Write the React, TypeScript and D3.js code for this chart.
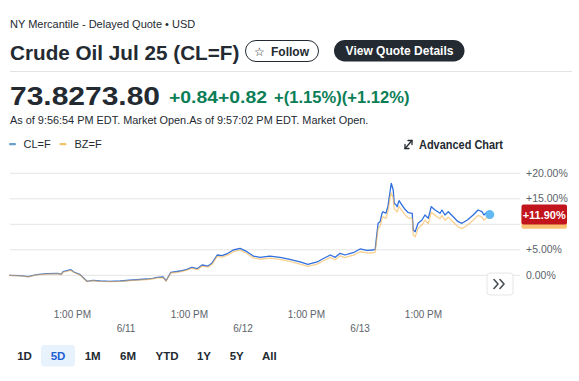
import React from "react";
import * as d3 from "d3";

// hours since 2025-06-10 00:00 (local)
const hours = [0, 2.3, 3.9, 5.7, 7.8, 10.0, 10.7, 11.1, 12.7, 13.3, 14.6, 16.0, 17.2, 18.7, 20.7, 22.8, 25.4, 28.3, 29.5, 30.4, 31.6, 32.2, 33.2, 35.1, 36.5, 37.5, 38.6, 39.6, 40.8, 41.6, 42.7, 43.7, 44.9, 46.0, 47.4, 48.8, 50.1, 51.5, 53.5, 55.6, 57.6, 59.7, 61.3, 63.2, 64.4, 65.9, 66.9, 67.9, 68.9, 70.0, 70.6, 72.0, 73.4, 74.7, 75.1, 75.5, 75.7, 76.1, 76.5, 76.7, 77.3, 77.7, 78.2, 78.4, 78.8, 79.0, 79.4, 79.6, 80.0, 80.6, 81.2, 81.9, 82.7, 82.9, 83.3, 83.9, 84.7, 85.3, 86.0, 86.6, 87.4, 88.4, 88.8, 89.4, 90.1, 91.1, 92.1, 92.9, 94.0, 95.2, 96.2, 97.0, 97.4, 98.1, 98.6];

const clPct = [0.00, -0.08, -0.27, 0.12, 0.31, 0.39, 0.20, 0.71, 1.10, 0.65, 0.12, -1.18, -0.98, -1.12, -1.18, -1.12, -0.92, -0.73, -0.59, -0.39, -0.33, -1.06, 0.59, 0.84, 1.18, 1.57, 1.29, 2.02, 1.82, 2.35, 3.98, 3.84, 4.31, 4.96, 5.29, 4.63, 3.78, 3.53, 3.78, 3.53, 3.14, 2.61, 2.16, 2.61, 3.25, 3.98, 3.53, 4.31, 3.98, 4.31, 4.43, 5.16, 4.90, 4.96, 5.10, 8.55, 10.20, 10.51, 12.16, 12.47, 12.16, 13.45, 16.73, 18.04, 16.73, 14.12, 13.78, 13.45, 14.63, 13.78, 12.94, 12.27, 12.16, 8.88, 8.55, 10.20, 10.84, 11.82, 11.18, 13.45, 12.80, 12.16, 12.80, 11.82, 12.47, 11.49, 10.51, 10.20, 10.84, 11.82, 12.80, 12.47, 11.82, 12.47, 11.90];

const bzPct = [0.00, -0.10, -0.30, 0.08, 0.25, 0.33, 0.15, 0.62, 0.98, 0.55, 0.05, -1.25, -1.05, -1.20, -1.25, -1.20, -1.00, -0.82, -0.68, -0.50, -0.45, -1.15, 0.45, 0.68, 1.00, 1.38, 1.10, 1.80, 1.60, 2.10, 3.70, 3.55, 4.00, 4.62, 4.95, 4.28, 3.42, 3.15, 3.38, 3.12, 2.72, 2.20, 1.75, 2.18, 2.80, 3.50, 3.05, 3.82, 3.48, 3.80, 3.92, 4.62, 4.38, 4.42, 4.55, 7.60, 9.20, 9.55, 11.10, 11.45, 11.15, 12.40, 15.50, 16.10, 15.20, 12.95, 12.70, 12.40, 13.50, 12.70, 11.90, 11.25, 11.10, 7.90, 7.55, 9.20, 9.85, 10.80, 10.15, 12.35, 11.75, 11.10, 11.75, 10.80, 11.40, 10.45, 9.50, 9.15, 9.80, 10.80, 11.75, 11.40, 10.80, 11.40, 11.10];

const seriesNames = ["CL=F", "BZ=F"];
const yTicks = [0, 5, 10, 15, 20];
const timeTicks = ["2025-06-10T13:00", "2025-06-11T13:00", "2025-06-12T13:00", "2025-06-13T13:00"];
const dateTicks = ["2025-06-11T00:00", "2025-06-12T00:00", "2025-06-13T00:00"];
const ranges = ["1D", "5D", "1M", "6M", "YTD", "1Y", "5Y", "All"];
const activeRange = "5D";

const exchangeLine = "NY Mercantile - Delayed Quote • USD";
const title = "Crude Oil Jul 25 (CL=F)";
const priceText = "73.8273.80";
const changeText = "+0.84+0.82";
const pctText = "+(1.15%)(+1.12%)";
const asOfText = "As of 9:56:54 PM EDT. Market Open.As of 9:57:02 PM EDT. Market Open.";

const FONT = "'Liberation Sans', Arial, Helvetica, sans-serif";
const DARK = "#232a31";
const GRAY = "#5b636a";
const GREEN = "#0b7e57";
const BLUE = "#2f6fdf";
const ORANGE = "#f5b247";

export default function App() {
  const t0 = new Date(2025, 5, 10, 0, 0).getTime();
  const toDate = (h: number) => new Date(t0 + h * 3600000);
  const parse = d3.timeParse("%Y-%m-%dT%H:%M");

  const x = d3.scaleTime().domain([toDate(0), toDate(104.8)]).range([9, 520]);
  const y = d3.scaleLinear().domain([0, 20]).range([275.3, 173.3]);

  const line = d3
    .line<number>()
    .x((_, i) => x(toDate(hours[i])))
    .y((d) => y(d))
    .curve(d3.curveLinear);

  const fmtTime = d3.timeFormat("%-I:%M %p");
  const fmtDate = d3.timeFormat("%-m/%-d");
  const fmtPct = (d: number) => (d > 0 ? "+" : "") + d.toFixed(2) + "%";

  const lastI = hours.length - 1;
  const endX = x(toDate(hours[lastI]));
  const clEndY = y(clPct[lastI]);
  const bzEndY = y(bzPct[lastI]);
  const badgeTop = clEndY - 10;
  const badgeBottom = bzEndY + 10;

  const rangeX = [24.5, 58, 92.7, 128, 167, 204, 236.7, 269.3];

  return (
    <svg
      width={579}
      height={381}
      style={{ position: "absolute", left: 0, top: 0, background: "#fff" }}
      fontFamily={FONT}
    >
      <rect width={579} height={381} fill="#fff" />
      {/* header */}
      <text x={10} y={28} fontSize={11} fill={DARK}>{exchangeLine}</text>
      <text x={10} y={59.5} fontSize={20.7} fontWeight={700} fill={DARK}>{title}</text>

      <rect x={245.5} y={40.5} width={73} height={21} rx={10.5} fill="#fff" stroke={DARK} strokeWidth={1} />
      <text x={254} y={55.5} fontSize={12} fill={DARK} fontFamily="'DejaVu Sans', sans-serif">☆</text>
      <text x={271} y={55.5} fontSize={12} fontWeight={700} fill={DARK}>Follow</text>

      <rect x={334} y={40} width={130.5} height={21.5} rx={10.75} fill={DARK} />
      <text x={399.5} y={55} fontSize={12} fontWeight={700} fill="#fff" textAnchor="middle">View Quote Details</text>

      <line x1={10} x2={572} y1={71.5} y2={71.5} stroke="#e3e3e3" strokeWidth={1} />

      <text x={10} y={105} fontSize={25} fontWeight={700} fill={DARK} textLength={150} lengthAdjust="spacingAndGlyphs">{priceText}</text>
      <text x={169} y={102.5} fontSize={16.5} fontWeight={700} fill={GREEN} textLength={98} lengthAdjust="spacingAndGlyphs">{changeText}</text>
      <text x={274} y={102.5} fontSize={16.5} fontWeight={700} fill={GREEN} textLength={135.5} lengthAdjust="spacingAndGlyphs">{pctText}</text>

      <text x={10} y={124.3} fontSize={10.9} fill={DARK}>{asOfText}</text>

      {/* legend */}
      <rect x={9} y={143} width={7} height={2.2} rx={1} fill="#6a9fc9" />
      <text x={23.5} y={148} fontSize={11} fill={DARK}>{seriesNames[0]}</text>
      <rect x={59.5} y={143} width={7} height={2.2} rx={1} fill="#f0c36a" />
      <text x={74.5} y={148} fontSize={11} fill={DARK}>{seriesNames[1]}</text>

      {/* advanced chart */}
      <g stroke={DARK} strokeWidth={1.3} fill="none" strokeLinecap="round">
        <line x1={405} y1={148.5} x2={412} y2={140.5} />
        <polyline points="405,144.5 405,148.5 409,148.5" />
        <polyline points="408,140.5 412,140.5 412,144.5" />
      </g>
      <text x={419} y={148.5} fontSize={12.5} fontWeight={700} fill={DARK} textLength={84} lengthAdjust="spacingAndGlyphs">Advanced Chart</text>

      {/* grid */}
      {yTicks.map((t) => {
        const ty = y(t);
        const hidden = ty > badgeTop - 4 && ty < badgeBottom + 4;
        return (
          <g key={t}>
            <line x1={10} x2={520} y1={ty} y2={ty} stroke="#e4e4e4" strokeWidth={1} />
            {!hidden && (
              <text x={526} y={ty} dy="0.35em" fontSize={10.5} fill={GRAY}>{fmtPct(t)}</text>
            )}
          </g>
        );
      })}

      {/* lines */}
      <path d={line(clPct) || ""} fill="none" stroke={BLUE} strokeWidth={1.3} strokeLinejoin="round" />
      <path d={line(bzPct) || ""} fill="none" stroke={ORANGE} strokeOpacity={0.6} strokeWidth={1.3} strokeLinejoin="round" />
      <circle cx={endX} cy={clEndY} r={4.5} fill="#62b8f2" />

      {/* badges */}
      <rect x={521.5} y={bzEndY - 10} width={45.5} height={20} rx={2} fill="#f8c070" />
      <rect x={521.5} y={clEndY - 10} width={45.5} height={20} rx={2} fill="#c2141d" />
      <text x={544.2} y={clEndY} dy="0.36em" fontSize={11} fontWeight={700} fill="#fff" textAnchor="middle">{fmtPct(clPct[lastI])}</text>

      {/* scroll button */}
      <rect x={487} y={273} width={26} height={22} rx={3} fill="#fff" stroke="#e6e6e6" />
      <g stroke="#464e56" strokeWidth={1.6} fill="none" strokeLinecap="round" strokeLinejoin="round">
        <polyline points="494,279.5 498,284 494,288.5" />
        <polyline points="500,279.5 504,284 500,288.5" />
      </g>

      {/* x axis */}
      {timeTicks.map((s) => {
        const d = parse(s) as Date;
        return (
          <text key={s} x={x(d)} y={314.3} dy="0.35em" fontSize={10} fill={GRAY} textAnchor="middle">{fmtTime(d)}</text>
        );
      })}
      {dateTicks.map((s) => {
        const d = parse(s) as Date;
        return (
          <text key={s} x={x(d)} y={328} dy="0.35em" fontSize={10} fill={GRAY} textAnchor="middle">{fmtDate(d)}</text>
        );
      })}

      {/* ranges */}
      {ranges.map((r, i) => (
        <g key={r}>
          {r === activeRange && <rect x={rangeX[i] - 17} y={345} width={34} height={21.5} rx={3} fill="#e8f2fd" />}
          <text x={rangeX[i]} y={355.8} dy="0.36em" fontSize={11.5} fontWeight={700} fill={r === activeRange ? "#1d5fd2" : DARK} textAnchor="middle">{r}</text>
        </g>
      ))}
    </svg>
  );
}
